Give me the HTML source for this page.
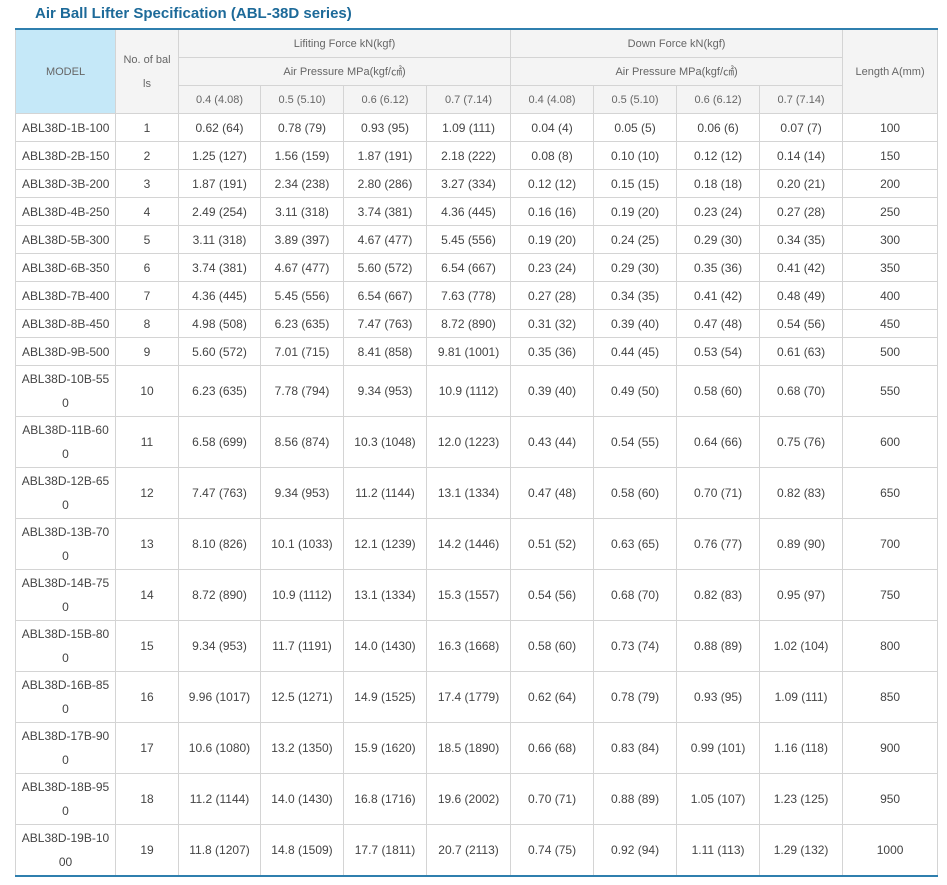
<!DOCTYPE html>
<html><head><meta charset="utf-8"><style>
body{margin:0;background:#fff;font-family:"Liberation Sans","Noto Sans CJK KR",sans-serif;}
h1{position:absolute;left:35px;top:5px;margin:0;font-size:15px;font-weight:bold;color:#1d6a99;}
table{position:absolute;left:15px;top:28px;border-collapse:collapse;table-layout:fixed;width:922px;border-top:2px solid #2f7fae;border-bottom:2px solid #2f7fae;}
td{border:1px solid #d4d4d4;text-align:center;font-size:12px;color:#444;padding:0;line-height:24px;}
tr.h td{background:#f4f4f4;color:#666;font-size:11px;height:27px;}
tr.h td.m{background:#c5e8f8;}
tr.r td{height:27px;}
tr.t td{height:50px;}
td.l{text-align:left;padding-left:6px;}
</style></head><body>
<h1>Air Ball Lifter Specification (ABL-38D series)</h1>
<table>
<colgroup><col style="width:100px"><col style="width:63px"><col style="width:82px"><col style="width:83px"><col style="width:83px"><col style="width:84px"><col style="width:83px"><col style="width:83px"><col style="width:83px"><col style="width:83px"><col style="width:95px"></colgroup>
<tr class="h"><td rowspan="3" class="m">MODEL</td><td rowspan="3">No. of bal<br>ls</td><td colspan="4">Lifiting Force kN(kgf)</td><td colspan="4">Down Force kN(kgf)</td><td rowspan="3">Length A(mm)</td></tr>
<tr class="h"><td colspan="4">Air Pressure MPa(kgf/㎠)</td><td colspan="4">Air Pressure MPa(kgf/㎠)</td></tr>
<tr class="h"><td>0.4 (4.08)</td><td>0.5 (5.10)</td><td>0.6 (6.12)</td><td>0.7 (7.14)</td><td>0.4 (4.08)</td><td>0.5 (5.10)</td><td>0.6 (6.12)</td><td>0.7 (7.14)</td></tr>
<tr class="r"><td class="l">ABL38D-1B-100</td><td>1</td><td>0.62 (64)</td><td>0.78 (79)</td><td>0.93 (95)</td><td>1.09 (111)</td><td>0.04 (4)</td><td>0.05 (5)</td><td>0.06 (6)</td><td>0.07 (7)</td><td>100</td></tr>
<tr class="r"><td class="l">ABL38D-2B-150</td><td>2</td><td>1.25 (127)</td><td>1.56 (159)</td><td>1.87 (191)</td><td>2.18 (222)</td><td>0.08 (8)</td><td>0.10 (10)</td><td>0.12 (12)</td><td>0.14 (14)</td><td>150</td></tr>
<tr class="r"><td class="l">ABL38D-3B-200</td><td>3</td><td>1.87 (191)</td><td>2.34 (238)</td><td>2.80 (286)</td><td>3.27 (334)</td><td>0.12 (12)</td><td>0.15 (15)</td><td>0.18 (18)</td><td>0.20 (21)</td><td>200</td></tr>
<tr class="r"><td class="l">ABL38D-4B-250</td><td>4</td><td>2.49 (254)</td><td>3.11 (318)</td><td>3.74 (381)</td><td>4.36 (445)</td><td>0.16 (16)</td><td>0.19 (20)</td><td>0.23 (24)</td><td>0.27 (28)</td><td>250</td></tr>
<tr class="r"><td class="l">ABL38D-5B-300</td><td>5</td><td>3.11 (318)</td><td>3.89 (397)</td><td>4.67 (477)</td><td>5.45 (556)</td><td>0.19 (20)</td><td>0.24 (25)</td><td>0.29 (30)</td><td>0.34 (35)</td><td>300</td></tr>
<tr class="r"><td class="l">ABL38D-6B-350</td><td>6</td><td>3.74 (381)</td><td>4.67 (477)</td><td>5.60 (572)</td><td>6.54 (667)</td><td>0.23 (24)</td><td>0.29 (30)</td><td>0.35 (36)</td><td>0.41 (42)</td><td>350</td></tr>
<tr class="r"><td class="l">ABL38D-7B-400</td><td>7</td><td>4.36 (445)</td><td>5.45 (556)</td><td>6.54 (667)</td><td>7.63 (778)</td><td>0.27 (28)</td><td>0.34 (35)</td><td>0.41 (42)</td><td>0.48 (49)</td><td>400</td></tr>
<tr class="r"><td class="l">ABL38D-8B-450</td><td>8</td><td>4.98 (508)</td><td>6.23 (635)</td><td>7.47 (763)</td><td>8.72 (890)</td><td>0.31 (32)</td><td>0.39 (40)</td><td>0.47 (48)</td><td>0.54 (56)</td><td>450</td></tr>
<tr class="r"><td class="l">ABL38D-9B-500</td><td>9</td><td>5.60 (572)</td><td>7.01 (715)</td><td>8.41 (858)</td><td>9.81 (1001)</td><td>0.35 (36)</td><td>0.44 (45)</td><td>0.53 (54)</td><td>0.61 (63)</td><td>500</td></tr>
<tr class="t"><td>ABL38D-10B-55<br>0</td><td>10</td><td>6.23 (635)</td><td>7.78 (794)</td><td>9.34 (953)</td><td>10.9 (1112)</td><td>0.39 (40)</td><td>0.49 (50)</td><td>0.58 (60)</td><td>0.68 (70)</td><td>550</td></tr>
<tr class="t"><td>ABL38D-11B-60<br>0</td><td>11</td><td>6.58 (699)</td><td>8.56 (874)</td><td>10.3 (1048)</td><td>12.0 (1223)</td><td>0.43 (44)</td><td>0.54 (55)</td><td>0.64 (66)</td><td>0.75 (76)</td><td>600</td></tr>
<tr class="t"><td>ABL38D-12B-65<br>0</td><td>12</td><td>7.47 (763)</td><td>9.34 (953)</td><td>11.2 (1144)</td><td>13.1 (1334)</td><td>0.47 (48)</td><td>0.58 (60)</td><td>0.70 (71)</td><td>0.82 (83)</td><td>650</td></tr>
<tr class="t"><td>ABL38D-13B-70<br>0</td><td>13</td><td>8.10 (826)</td><td>10.1 (1033)</td><td>12.1 (1239)</td><td>14.2 (1446)</td><td>0.51 (52)</td><td>0.63 (65)</td><td>0.76 (77)</td><td>0.89 (90)</td><td>700</td></tr>
<tr class="t"><td>ABL38D-14B-75<br>0</td><td>14</td><td>8.72 (890)</td><td>10.9 (1112)</td><td>13.1 (1334)</td><td>15.3 (1557)</td><td>0.54 (56)</td><td>0.68 (70)</td><td>0.82 (83)</td><td>0.95 (97)</td><td>750</td></tr>
<tr class="t"><td>ABL38D-15B-80<br>0</td><td>15</td><td>9.34 (953)</td><td>11.7 (1191)</td><td>14.0 (1430)</td><td>16.3 (1668)</td><td>0.58 (60)</td><td>0.73 (74)</td><td>0.88 (89)</td><td>1.02 (104)</td><td>800</td></tr>
<tr class="t"><td>ABL38D-16B-85<br>0</td><td>16</td><td>9.96 (1017)</td><td>12.5 (1271)</td><td>14.9 (1525)</td><td>17.4 (1779)</td><td>0.62 (64)</td><td>0.78 (79)</td><td>0.93 (95)</td><td>1.09 (111)</td><td>850</td></tr>
<tr class="t"><td>ABL38D-17B-90<br>0</td><td>17</td><td>10.6 (1080)</td><td>13.2 (1350)</td><td>15.9 (1620)</td><td>18.5 (1890)</td><td>0.66 (68)</td><td>0.83 (84)</td><td>0.99 (101)</td><td>1.16 (118)</td><td>900</td></tr>
<tr class="t"><td>ABL38D-18B-95<br>0</td><td>18</td><td>11.2 (1144)</td><td>14.0 (1430)</td><td>16.8 (1716)</td><td>19.6 (2002)</td><td>0.70 (71)</td><td>0.88 (89)</td><td>1.05 (107)</td><td>1.23 (125)</td><td>950</td></tr>
<tr class="t"><td>ABL38D-19B-10<br>00</td><td>19</td><td>11.8 (1207)</td><td>14.8 (1509)</td><td>17.7 (1811)</td><td>20.7 (2113)</td><td>0.74 (75)</td><td>0.92 (94)</td><td>1.11 (113)</td><td>1.29 (132)</td><td>1000</td></tr>
</table>
</body></html>
